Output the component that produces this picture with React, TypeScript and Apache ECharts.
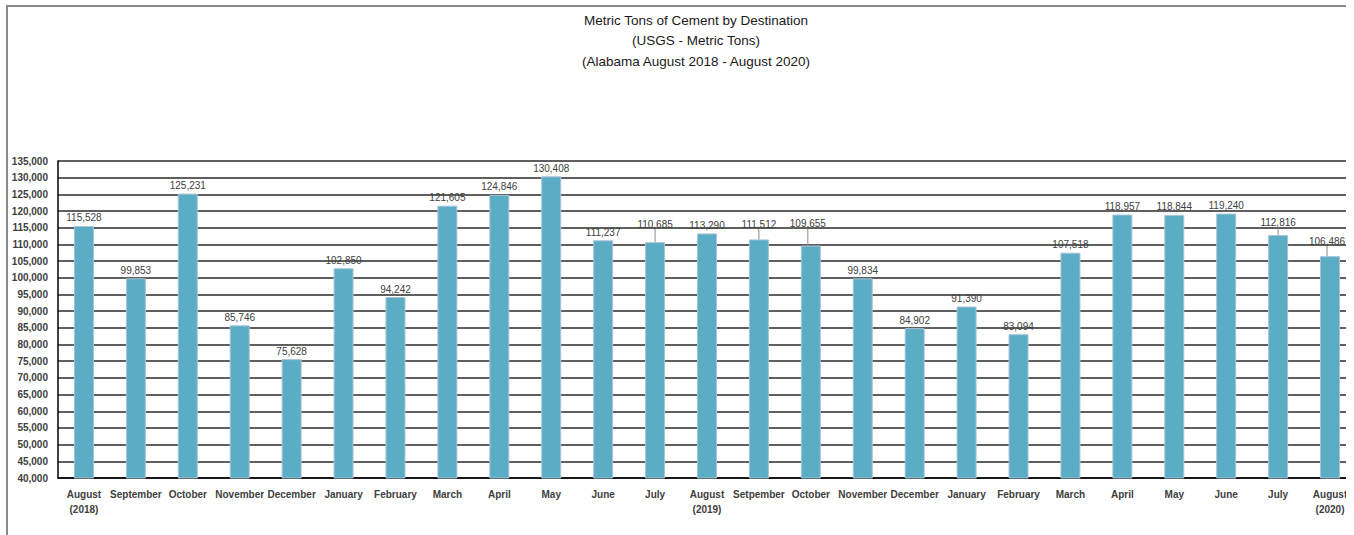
import React, { useEffect, useRef } from "react";
import * as echarts from "echarts";

const categories = [
  "August\n(2018)", "September", "October", "November", "December", "January", "February",
  "March", "April", "May", "June", "July", "August\n(2019)", "Setpember", "October",
  "November", "December", "January", "February", "March", "April", "May", "June", "July",
  "August\n(2020)",
];
const values = [
  115528, 99853, 125231, 85746, 75628, 102850, 94242, 121605, 124846, 130408, 111237,
  110685, 113290, 111512, 109655, 99834, 84902, 91390, 83094, 107518, 118957, 118844,
  119240, 112816, 106486,
];
const titleLines = [
  "Metric Tons of Cement by Destination",
  "(USGS - Metric Tons)",
  "(Alabama August 2018 - August 2020)",
];
// label displacements (Excel-moved labels with leader lines)
const labelShift: Record<number, [number, number]> = {
  11: [0, -10],
  13: [0, -7],
  14: [-3, -14],
  23: [0, -5],
  24: [-3, -7],
};

const FONT = "'Liberation Sans', Arial, sans-serif";
const fmt = (v: number) => v.toLocaleString("en-US");

export default function App() {
  const ref = useRef<HTMLDivElement>(null);
  useEffect(() => {
    if (!ref.current) return;
    const chart = echarts.init(ref.current, undefined, { renderer: "svg" });
    chart.setOption({
      animation: false,
      backgroundColor: "#ffffff",
      graphic: titleLines.map((t, i) => ({
        type: "text",
        x: 696,
        y: 20 + i * 20.5,
        style: {
          text: t,
          fill: "#1a1a1a",
          font: `13.5px ${FONT}`,
          textAlign: "center",
          textVerticalAlign: "middle",
        },
      })),
      grid: { left: 58, top: 161, width: 1298, height: 317, containLabel: false },
      xAxis: {
        type: "category",
        data: categories,
        axisTick: { show: false },
        axisLine: { show: true, lineStyle: { color: "#000", width: 1.5 } },
        axisLabel: {
          interval: 0,
          margin: 9,
          color: "#404040",
          fontFamily: FONT,
          fontWeight: "bold",
          fontSize: 10,
          lineHeight: 15,
          align: "center",
        },
      },
      yAxis: {
        type: "value",
        min: 40000,
        max: 135000,
        interval: 5000,
        axisLine: { show: true, lineStyle: { color: "#000", width: 1.5 } },
        axisTick: { show: false },
        splitLine: { show: true, lineStyle: { color: "#2a2a2a", width: 1.5 } },
        axisLabel: {
          margin: 10,
          color: "#404040",
          fontFamily: FONT,
          fontWeight: "bold",
          fontSize: 10,
          formatter: (v: number) => fmt(v),
        },
      },
      series: [
        {
          type: "bar",
          data: values.map((v, i) => ({
            value: v,
            labelLine: { show: !!labelShift[i] },
          })),
          barWidth: 20,
          itemStyle: { color: "#5badc6", borderColor: "#aac3d6", borderWidth: 1 },
          label: {
            show: true,
            position: "top",
            distance: 3,
            color: "#404040",
            fontFamily: FONT,
            fontSize: 10,
            formatter: (p: any) => fmt(p.value),
          },
          labelLine: { show: false, lineStyle: { color: "#8c8c8c", width: 1 } },
          labelLayout: (p: any) => {
            const s = labelShift[p.dataIndex];
            return s ? { dx: s[0], dy: s[1] } : {};
          },
        },
      ],
    });
    return () => chart.dispose();
  }, []);
  return (
    <div
      style={{
        position: "fixed",
        left: 0,
        top: 0,
        width: 1346,
        height: 535,
        overflow: "hidden",
        background: "#fff",
      }}
    >
      <div ref={ref} style={{ position: "absolute", left: 0, top: 0, width: 1400, height: 560 }} />
      <div
        style={{
          position: "absolute",
          left: 6,
          top: 5,
          width: 1500,
          height: 800,
          borderLeft: "2px solid #8a8a8a",
          borderTop: "2px solid #8a8a8a",
          pointerEvents: "none",
        }}
      />
    </div>
  );
}
